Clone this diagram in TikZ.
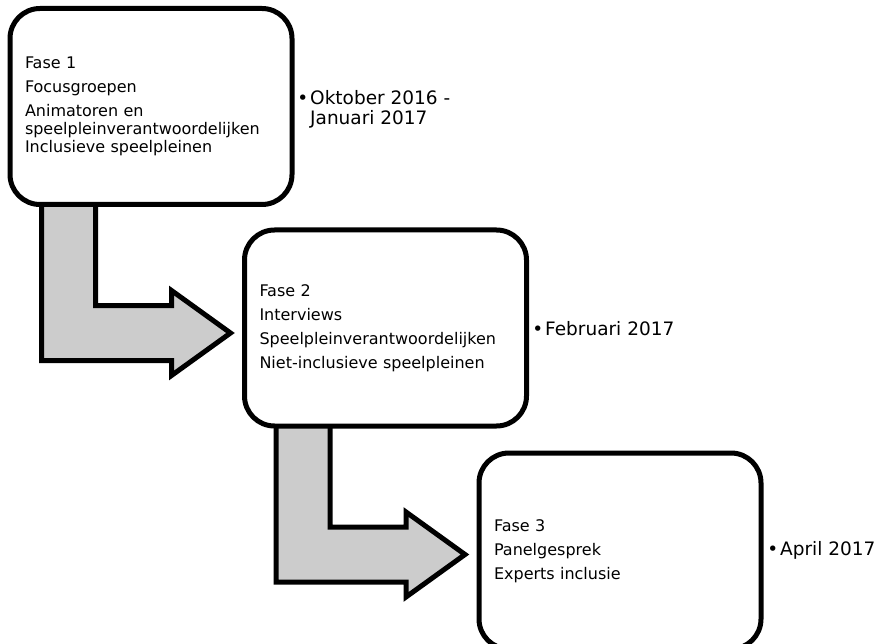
\documentclass[tikz,border=0pt]{standalone}
\usepackage{fontspec}
\setmainfont{DejaVu Sans}
\usetikzlibrary{backgrounds}
\definecolor{arrowgray}{HTML}{CCCCCC}
\newcommand\phasearrow[1]{%
  \begin{scope}[on background layer, shift={(#1.south west)}]
    \draw[blockarrow] (34,-15) -- (34,153.5) -- (164,153.5) -- (164,168.5)
      -- (223,126) -- (164,83.5) -- (164,98.5) -- (88,98.5) -- (88,-15) -- cycle;
  \end{scope}}
\begin{document}
\begin{tikzpicture}[x=1pt,y=-1pt,
  phase/.style={draw=black, line width=5pt, rounded corners=30pt, fill=white,
    minimum width=282pt, minimum height=196pt, inner xsep=15pt, inner ysep=0pt,
    text width=252pt, align=left, font=\fontsize{16}{18}\selectfont},
  blockarrow/.style={draw=black, line width=5pt, fill=arrowgray, line join=miter, miter limit=10},
  datetext/.style={anchor=west, align=left, inner sep=0pt, font=\fontsize{18.5}{20}\selectfont}]
\clip (0,0) rectangle (875,644);
\useasboundingbox (0,0) rectangle (875,644);
\node[phase] (f1) at (151,106.5) {Fase 1\\[6pt]Focusgroepen\\[6pt]Animatoren en\\speelpleinverantwoordelijken\\Inclusieve speelpleinen};
\node[phase] (f2) at (385.5,328) {Fase 2\\[6pt]Interviews\\[6pt]Speelpleinverantwoordelijken\\[6pt]Niet-inclusieve speelpleinen};
\node[phase] (f3) at (620,551) {Fase 3\\[6pt]Panelgesprek\\[6pt]Experts inclusie};
\phasearrow{f1}
\phasearrow{f2}
\node[datetext] (d1) at (310,109) {\llap{•\hspace{2pt}}Oktober 2016 -\\Januari 2017};
\node[datetext] (d2) at (545,329) {\llap{•\hspace{2pt}}Februari 2017};
\node[datetext] (d3) at (780,550) {\llap{•\hspace{2pt}}April 2017};
\end{tikzpicture}
\end{document}
